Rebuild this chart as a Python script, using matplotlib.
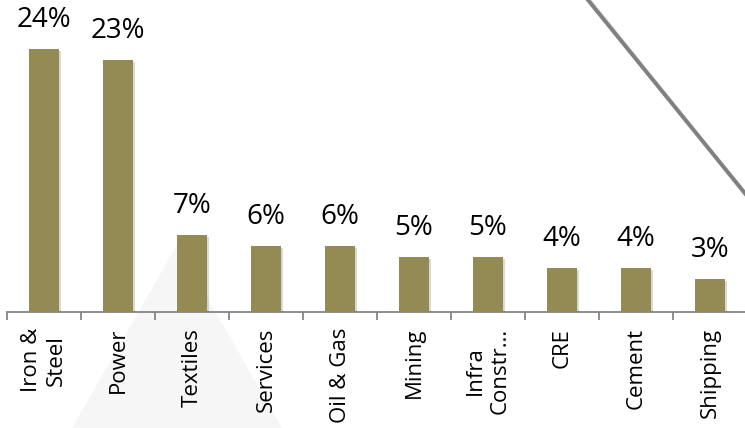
import matplotlib
matplotlib.use("Agg")
import matplotlib.pyplot as plt
from matplotlib.lines import Line2D
from matplotlib.patches import Polygon
import matplotlib.patheffects as pe

sectors = ["Iron &\nSteel", "Power", "Textiles", "Services", "Oil & Gas",
           "Mining", "Infra\nConstr…", "CRE", "Cement", "Shipping"]
shares = [24, 23, 7, 6, 6, 5, 5, 4, 4, 3]

BAR = "#948A54"
AXIS = "#868686"
FONT = "Open Sans"

W, H = 745, 428
fig = plt.figure(figsize=(W / 100, H / 100), dpi=100)
fig.patch.set_facecolor("white")

# faint background triangle
tri = Polygon([(72 / W, 0.0), (282 / W, 0.0), (177 / W, 1 - 245 / H)],
              closed=True, transform=fig.transFigure,
              facecolor="#f6f6f6", edgecolor="none", zorder=0)
fig.add_artist(tri)

ax = fig.add_axes([7 / W, (H - 312) / H, 740 / W, 312 / H])
ax.set_facecolor("none")
ax.set_zorder(1)

x = list(range(len(shares)))
bars = ax.bar(x, shares, width=0.41, color=BAR, zorder=3)
for b in bars:
    b.set_path_effects([pe.SimplePatchShadow(offset=(1.2, -1.2), alpha=0.18),
                        pe.Normal()])

for xi, v in zip(x, shares):
    ax.annotate(f"{v}%", (xi, v), xytext=(0, 11), textcoords="offset points",
                ha="center", va="bottom", fontsize=20, family=FONT,
                color="black")

ax.set_xlim(-0.5, len(shares) - 0.5)
ax.set_ylim(0, 28.5)

for side in ("top", "right", "left"):
    ax.spines[side].set_visible(False)
ax.spines["bottom"].set_color(AXIS)
ax.spines["bottom"].set_linewidth(1.3)
ax.set_yticks([])

ax.set_xticks(x)
ax.set_xticklabels(sectors, rotation=90, fontsize=16, family=FONT,
                   ha="center", va="top", multialignment="center",
                   linespacing=1.25)
ax.tick_params(axis="x", which="major", length=0, pad=11.5)
ax.set_xticks([i - 0.5 for i in range(len(shares) + 1)], minor=True)
ax.tick_params(axis="x", which="minor", length=6, width=1.3, color=AXIS,
               direction="out")

# decorative diagonal stroke in the upper right, with a soft shadow
fig.add_artist(Line2D([590 / W, 750 / W], [1 - 1 / H, 1 - 200 / H],
                      transform=fig.transFigure, color="#e2e2e2",
                      linewidth=3.0, zorder=4))
fig.add_artist(Line2D([588 / W, 748 / W], [1.0, 1 - 197 / H],
                      transform=fig.transFigure, color="#808080",
                      linewidth=2.8, zorder=5))

fig.savefig("out.png", dpi=100, facecolor="white")
